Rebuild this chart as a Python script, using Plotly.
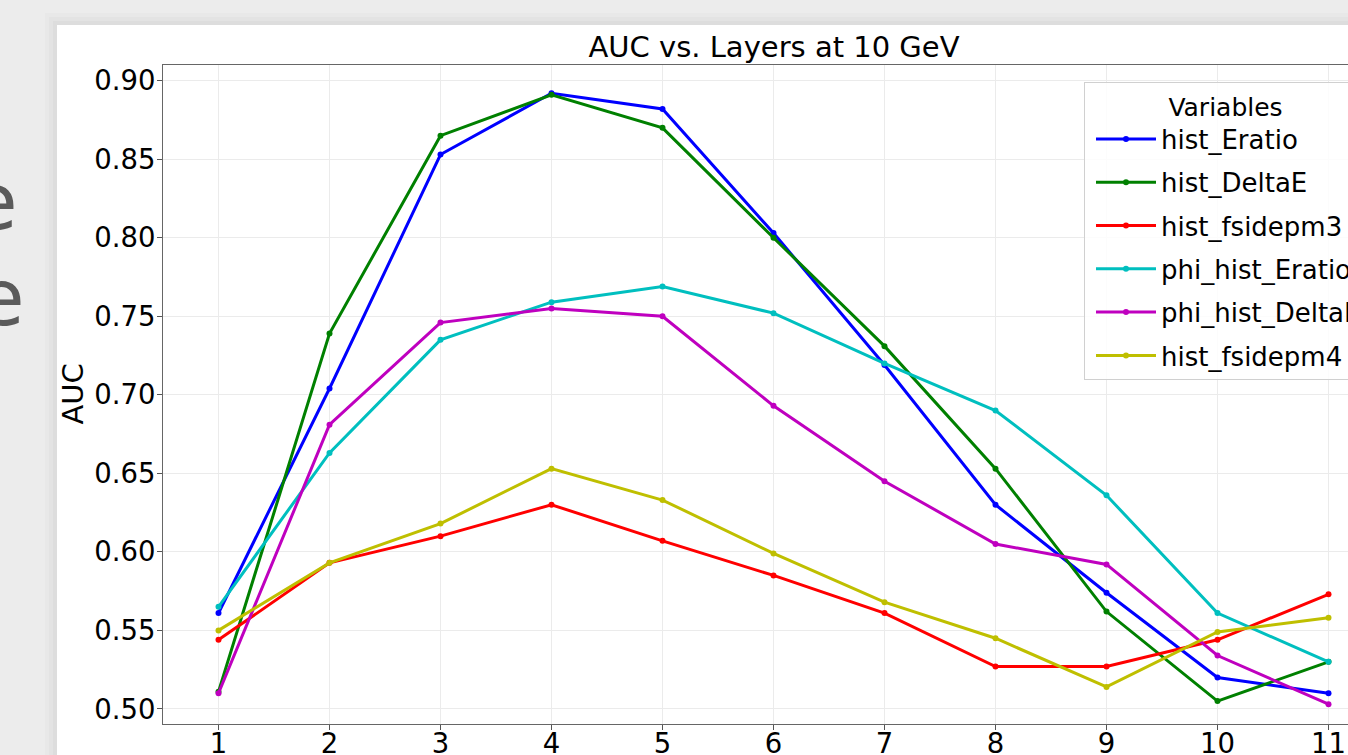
import plotly.graph_objects as go

layers = [1, 2, 3, 4, 5, 6, 7, 8, 9, 10, 11]
series_names = ["hist_Eratio", "hist_DeltaE", "hist_fsidepm3",
                "phi_hist_Eratio", "phi_hist_DeltaE", "hist_fsidepm4"]
hist_Eratio = [0.561, 0.704, 0.853, 0.892, 0.882, 0.803, 0.719, 0.630, 0.574, 0.520, 0.510]
hist_DeltaE = [0.511, 0.739, 0.865, 0.891, 0.870, 0.800, 0.731, 0.653, 0.562, 0.505, 0.530]
hist_fsidepm3 = [0.544, 0.593, 0.610, 0.630, 0.607, 0.585, 0.561, 0.527, 0.527, 0.544, 0.573]
phi_hist_Eratio = [0.565, 0.663, 0.735, 0.759, 0.769, 0.752, 0.720, 0.690, 0.636, 0.561, 0.530]
phi_hist_DeltaE = [0.510, 0.681, 0.746, 0.755, 0.750, 0.693, 0.645, 0.605, 0.592, 0.534, 0.503]
hist_fsidepm4 = [0.550, 0.593, 0.618, 0.653, 0.633, 0.599, 0.568, 0.545, 0.514, 0.549, 0.558]
y_ticks = [0.50, 0.55, 0.60, 0.65, 0.70, 0.75, 0.80, 0.85, 0.90]
y_tick_labels = ["0.50", "0.55", "0.60", "0.65", "0.70", "0.75", "0.80", "0.85", "0.90"]

values = [hist_Eratio, hist_DeltaE, hist_fsidepm3, phi_hist_Eratio, phi_hist_DeltaE, hist_fsidepm4]
colors = ["#0000ff", "#008000", "#ff0000", "#00bfbf", "#bf00bf", "#bfbf00"]

W, H = 1348, 755
L, T, B = 163, 65, 31
PW, PH = W - L, H - T - B


def px(x):
    return (x - L) / PW


def py(y):
    return (H - B - y) / PH


FONT = "DejaVu Sans"
fig = go.Figure()
for name, vals, col in zip(series_names, values, colors):
    fig.add_trace(go.Scatter(
        x=layers, y=vals, name=name, mode="lines+markers",
        legendgroup=name,
        line=dict(color=col, width=3),
        marker=dict(color=col, size=6),
    ))

shapes = [
    # background card with soft shadow
    dict(type="rect", xref="paper", yref="paper", x0=px(45), x1=px(1400), y0=py(13), y1=py(800),
         fillcolor="rgba(0,0,0,0.015)", line=dict(width=0), layer="below"),
    dict(type="rect", xref="paper", yref="paper", x0=px(49), x1=px(1400), y0=py(17), y1=py(800),
         fillcolor="rgba(0,0,0,0.02)", line=dict(width=0), layer="below"),
    dict(type="rect", xref="paper", yref="paper", x0=px(53), x1=px(1400), y0=py(21), y1=py(800),
         fillcolor="rgba(0,0,0,0.025)", line=dict(width=0), layer="below"),
    dict(type="rect", xref="paper", yref="paper", x0=px(57), x1=px(1400), y0=py(25), y1=py(800),
         fillcolor="#ffffff", line=dict(width=0), layer="below"),
]

annotations = [
    dict(text="AUC", x=px(72), y=0.5, xref="paper", yref="paper", textangle=-90,
         showarrow=False, font=dict(family=FONT, size=29, color="#000000"),
         xanchor="center", yanchor="middle"),
    dict(text="e", x=px(20), y=py(202), xref="paper", yref="paper", showarrow=False,
         font=dict(family=FONT, size=79, color="#5a5a5a"), xanchor="right", yanchor="middle"),
    dict(text="e", x=px(27), y=py(298), xref="paper", yref="paper", showarrow=False,
         font=dict(family=FONT, size=79, color="#5a5a5a"), xanchor="right", yanchor="middle"),
]

fig.update_layout(
    width=W, height=H,
    margin=dict(l=L, r=0, t=T, b=B, autoexpand=False),
    paper_bgcolor="#ececec",
    plot_bgcolor="rgba(0,0,0,0)",
    font=dict(family=FONT, color="#000000"),
    title=dict(text="AUC vs. Layers at 10 GeV", x=px(774), xref="paper", xanchor="center",
               y=1 - 47 / H, yref="container", yanchor="middle",
               font=dict(family=FONT, size=29, color="#000000")),
    shapes=shapes,
    annotations=annotations,
    showlegend=True,
    legend=dict(
        x=px(1084), y=py(82), xanchor="left", yanchor="top",
        bgcolor="rgba(255,255,255,0.85)", bordercolor="#d0d0d0", borderwidth=1,
        font=dict(family=FONT, size=26, color="#000000"),
        title=dict(text="Variables", side="top center", font=dict(family=FONT, size=25)),
        tracegroupgap=6.5, itemwidth=60, indentation=6,
    ),
)

fig.update_xaxes(
    range=[0.5, 0.5 + PW / 111.0],
    tickmode="array", tickvals=layers, ticktext=[str(v) for v in layers],
    ticks="outside", ticklen=5, tickcolor="#555555", tickwidth=1,
    tickfont=dict(family=FONT, size=27.5, color="#000000"),
    ticklabelstandoff=-10,
    showgrid=True, gridcolor="#ebebeb", gridwidth=1,
    showline=True, linecolor="#666666", linewidth=1, mirror=True,
    zeroline=False,
)
fig.update_yaxes(
    range=[0.4904, 0.9100],
    tickmode="array", tickvals=y_ticks, ticktext=y_tick_labels,
    ticks="outside", ticklen=5, tickcolor="#555555", tickwidth=1,
    tickfont=dict(family=FONT, size=27.5, color="#000000"),
    ticklabelstandoff=-4,
    showgrid=True, gridcolor="#ebebeb", gridwidth=1,
    showline=True, linecolor="#666666", linewidth=1, mirror=False,
    zeroline=False,
)

fig.write_html(
    "out.html",
    config={"displayModeBar": False},
    post_script="document.body.style.margin='0px';document.body.style.overflow='hidden';",
)
